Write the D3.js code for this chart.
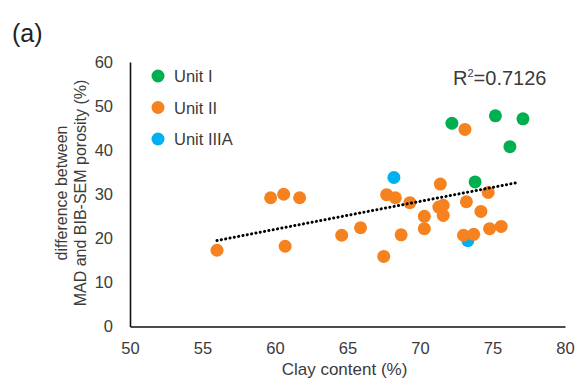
<!DOCTYPE html>
<html>
<head>
<meta charset="utf-8">
<script src="https://cdn.jsdelivr.net/npm/d3@7"></script>
<style>
  body { margin: 0; background: #fff; }
  svg { font-family: "Liberation Sans", Arial, sans-serif; }
</style>
</head>
<body>
<svg id="chart" width="577" height="388"></svg>
<script>
// values
const unit1X = [72.2, 75.2, 77.1, 76.2, 73.8];
const unit1Y = [46.1, 47.8, 47.1, 40.8, 32.8];

const unit2X = [56.0, 59.7, 60.6, 61.7, 60.7, 64.6, 65.9, 67.5, 67.7, 68.3, 68.7, 69.3, 70.3,
                70.3, 71.4, 71.3, 71.6, 71.6, 73.1, 73.2, 73.0, 73.7, 74.2, 74.7, 74.8, 75.6];
const unit2Y = [17.3, 29.2, 30.0, 29.2, 18.2, 20.7, 22.4, 15.9, 29.9, 29.2, 20.8, 28.1, 25.0,
                22.2, 32.3, 27.1, 27.5, 25.2, 44.7, 28.3, 20.7, 20.9, 26.1, 30.4, 22.2, 22.7];

const unit3X = [68.2, 73.3];
const unit3Y = [33.8, 19.5];

const trendX = [56.0, 76.8];
const trendY = [19.5, 32.7];

const xTicks = [50, 55, 60, 65, 70, 75, 80];
const yTicks = [0, 10, 20, 30, 40, 50, 60];

const seriesNames = ["Unit I", "Unit II", "Unit IIIA"];
const colors = { "Unit I": "#00b050", "Unit II": "#f5821f", "Unit IIIA": "#00b0f0" };

const svg = d3.select("#chart");
const textColor = "#3b3b3b";

const x = d3.scaleLinear().domain([50, 80]).range([130, 565]);
const y = d3.scaleLinear().domain([0, 60]).range([326.5, 62]);

// axes
const xAxis = svg.append("g")
  .attr("transform", `translate(0, ${y(0)})`)
  .call(d3.axisBottom(x).tickValues(xTicks).tickSize(0).tickSizeOuter(0).tickPadding(16));
const yAxis = svg.append("g")
  .attr("transform", `translate(${x(50)}, 0)`)
  .call(d3.axisLeft(y).tickValues(yTicks).tickSize(0).tickSizeOuter(0).tickPadding(17));

[xAxis, yAxis].forEach(g => {
  g.select(".domain").attr("stroke", "#111").attr("stroke-width", 1.6);
  g.selectAll("text").attr("fill", textColor).attr("font-size", 16.5)
    .attr("font-family", "'Liberation Sans', Arial, sans-serif");
});

// axis titles
svg.append("text")
  .attr("x", (x(50) + x(80)) / 2 - 3).attr("y", 375)
  .attr("text-anchor", "middle").attr("font-size", 17).attr("fill", textColor)
  .text("Clay content (%)");

const yTitle = svg.append("text")
  .attr("transform", `translate(0, 193) rotate(-90)`)
  .attr("text-anchor", "middle").attr("font-size", 16).attr("fill", textColor);
yTitle.append("tspan").attr("x", 0).attr("y", 67).text("difference between");
yTitle.append("tspan").attr("x", 0).attr("y", 86).text("MAD and BIB-SEM porosity (%)");

// points
const pts = [
  ...unit3X.map((v, i) => ({ s: "Unit IIIA", x: v, y: unit3Y[i] })),
  ...unit1X.map((v, i) => ({ s: "Unit I", x: v, y: unit1Y[i] })),
  ...unit2X.map((v, i) => ({ s: "Unit II", x: v, y: unit2Y[i] }))
];

svg.append("g").selectAll("circle")
  .data(pts).join("circle")
  .attr("cx", d => x(d.x))
  .attr("cy", d => y(d.y))
  .attr("r", 6.5)
  .attr("fill", d => colors[d.s]);

// trend line
svg.append("path")
  .datum(trendX.map((v, i) => [v, trendY[i]]))
  .attr("d", d3.line().x(d => x(d[0])).y(d => y(d[1])))
  .attr("fill", "none").attr("stroke", "#000")
  .attr("stroke-width", 3).attr("stroke-linecap", "round")
  .attr("stroke-dasharray", "0.1 4.3");

// R² label
const r2 = svg.append("text")
  .attr("x", 453).attr("y", 85)
  .attr("font-size", 20).attr("fill", textColor);
r2.append("tspan").text("R");
r2.append("tspan").attr("font-size", 11).attr("dy", -8).text("2");
r2.append("tspan").attr("dy", 8).text("=0.7126");

// legend
const legend = svg.append("g").selectAll("g")
  .data(seriesNames).join("g")
  .attr("transform", (d, i) => `translate(158, ${76 + i * 31.5})`);
legend.append("circle").attr("r", 6.5).attr("fill", d => colors[d]);
legend.append("text").attr("x", 16).attr("y", 6).attr("font-size", 16.5)
  .attr("fill", textColor).text(d => d);

// panel label
svg.append("text")
  .attr("x", 12).attr("y", 42)
  .attr("font-size", 25).attr("fill", "#222")
  .text("(a)");
</script>
</body>
</html>
